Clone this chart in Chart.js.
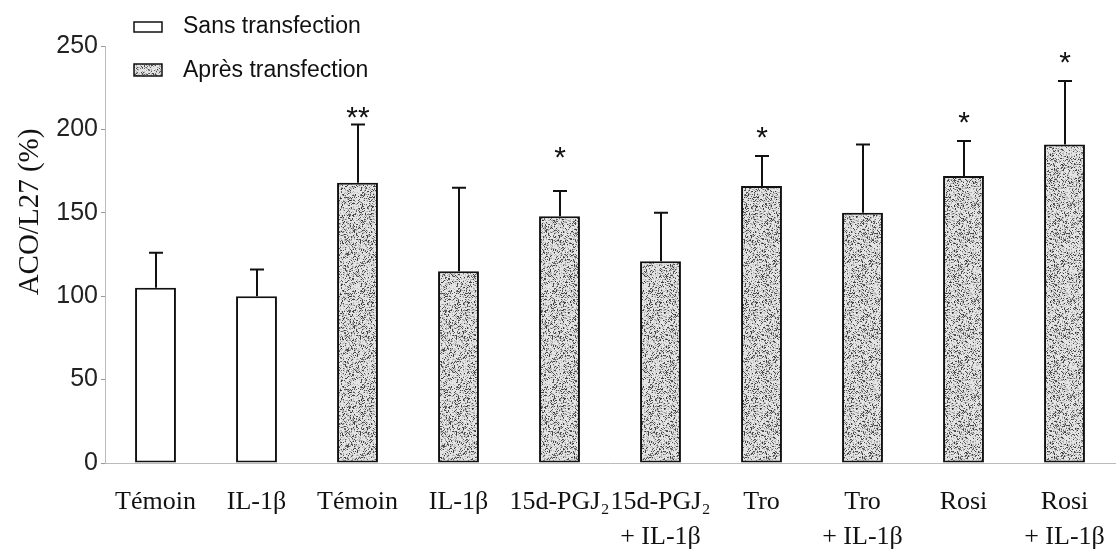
<!DOCTYPE html>
<html>
<head>
<meta charset="utf-8">
<script src="https://cdn.jsdelivr.net/npm/chart.js@4"></script>
<style>
  body { margin: 0; background: #fff; }
</style>
</head>
<body>
<canvas id="chart" width="1119" height="549"></canvas>
<script>
// categories (multi-line tick labels)
var labels = [
  'Témoin', 'IL-1β', 'Témoin', 'IL-1β', '15d-PGJ₂',
  ['15d-PGJ₂', '+ IL-1β'], 'Tro', ['Tro', '+ IL-1β'], 'Rosi', ['Rosi', '+ IL-1β']
];
// bar heights, ACO/L27 (%)
var sansValues  = [105, 100, null, null, null, null, null, null, null, null];
var apresValues = [null, null, 168, 115, 148, 121, 166, 150, 172, 191];
// top of the error bar for each category
var errTop = [126, 116, 203, 165, 163, 150, 184, 191, 193, 229];
// significance marks and the level (%) where they sit
var stars = ['', '', '**', '', '*', '', '*', '', '*', '*'];
var starLevel = [null, null, 209, null, 185, null, 197, null, 206, 242];
var yTicks = [0, 50, 100, 150, 200, 250];

// stippled fill like the scanned figure
function makeStipple() {
  var c = document.createElement('canvas');
  c.width = 96; c.height = 96;
  var g = c.getContext('2d');
  var img = g.createImageData(96, 96);
  var seed = 12345;
  function rnd() { seed = (seed * 1103515245 + 12345) & 0x7fffffff; return seed / 0x7fffffff; }
  for (var i = 0; i < 96 * 96; i++) {
    var v = 228;
    var r = rnd();
    if (r < 0.18) v = 50 + Math.floor(rnd() * 60);
    else if (r < 0.4) v = 160 + Math.floor(rnd() * 40);
    img.data[i * 4] = v; img.data[i * 4 + 1] = v; img.data[i * 4 + 2] = v; img.data[i * 4 + 3] = 255;
  }
  g.putImageData(img, 0, 0);
  return g.createPattern(c, 'repeat');
}
var stipple = makeStipple();

var serif = "'Liberation Serif', 'Times New Roman', serif";
var sans = "'Liberation Sans', Arial, sans-serif";

var extras = {
  id: 'extras',
  afterDatasetsDraw: function(chart) {
    var ctx = chart.ctx;
    var x = chart.scales.x, y = chart.scales.y;
    ctx.save();
    ctx.strokeStyle = '#111';
    ctx.lineWidth = 2;
    for (var i = 0; i < labels.length; i++) {
      var v = sansValues[i] != null ? sansValues[i] : apresValues[i];
      var px = Math.round(x.getPixelForValue(i));
      var y0 = y.getPixelForValue(v), y1 = y.getPixelForValue(errTop[i]);
      ctx.beginPath();
      ctx.moveTo(px, y0); ctx.lineTo(px, y1);
      ctx.moveTo(px - 7, y1); ctx.lineTo(px + 7, y1);
      ctx.stroke();
      if (stars[i]) {
        ctx.fillStyle = '#111';
        ctx.font = '30px ' + sans;
        ctx.textAlign = 'center';
        ctx.textBaseline = 'middle';
        ctx.fillText(stars[i], px, y.getPixelForValue(starLevel[i]) + 4);
      }
    }
    ctx.restore();
  },
  afterDraw: function(chart) {
    var ctx = chart.ctx;
    ctx.save();
    // y axis title
    ctx.translate(30, 212);
    ctx.rotate(-Math.PI / 2);
    ctx.fillStyle = '#111';
    ctx.font = '29px ' + serif;
    ctx.textAlign = 'center';
    ctx.textBaseline = 'middle';
    ctx.fillText('ACO/L27 (%)', 0, 0);
    ctx.restore();

    // legend
    ctx.save();
    ctx.lineWidth = 1.5;
    ctx.strokeStyle = '#111';
    ctx.fillStyle = '#fff';
    ctx.fillRect(134, 22, 28, 10);
    ctx.strokeRect(134, 22, 28, 10);
    ctx.fillStyle = stipple;
    ctx.fillRect(134, 64, 28, 12);
    ctx.strokeRect(134, 64, 28, 12);
    ctx.fillStyle = '#111';
    ctx.font = '23px ' + sans;
    ctx.textBaseline = 'middle';
    ctx.fillText(chart.data.datasets[0].label, 183, 27);
    ctx.fillText(chart.data.datasets[1].label, 183, 71);
    ctx.restore();
  }
};

new Chart(document.getElementById('chart'), {
  type: 'bar',
  data: {
    labels: labels,
    datasets: [
      {
        label: 'Sans transfection',
        data: sansValues,
        backgroundColor: '#fff',
        borderColor: '#111',
        borderWidth: 2,
        borderSkipped: false
      },
      {
        label: 'Après transfection',
        data: apresValues,
        backgroundColor: stipple,
        borderColor: '#111',
        borderWidth: 2,
        borderSkipped: false
      }
    ]
  },
  options: {
    responsive: false,
    animation: false,
    barPercentage: 0.405,
    categoryPercentage: 1,
    layout: { padding: { top: 46, right: 4, left: 0, bottom: 0 } },
    plugins: {
      legend: { display: false },
      tooltip: { enabled: false }
    },
    scales: {
      x: {
        stacked: true,
        grid: { display: false, drawTicks: false },
        border: { display: true, color: '#bbb', dash: [3, 6], width: 1 },
        ticks: {
          color: '#111',
          padding: 22,
          maxRotation: 0,
          autoSkip: false,
          font: { family: serif, size: 26, lineHeight: 1.35 }
        },
        afterFit: function(s) { s.height = 86; s.paddingLeft = 0; s.paddingRight = 0; }
      },
      y: {
        min: 0,
        max: 250,
        afterBuildTicks: function(s) { s.ticks = yTicks.map(function(v) { return { value: v }; }); },
        grid: { display: true, drawOnChartArea: false, tickLength: 4, color: '#999' },
        border: { display: true, color: '#bbb', dash: [2, 5], width: 1 },
        ticks: {
          color: '#222',
          padding: 3,
          font: { family: sans, size: 25 }
        },
        afterFit: function(s) { s.width = 105; }
      }
    }
  },
  plugins: [extras]
});
</script>
</body>
</html>
